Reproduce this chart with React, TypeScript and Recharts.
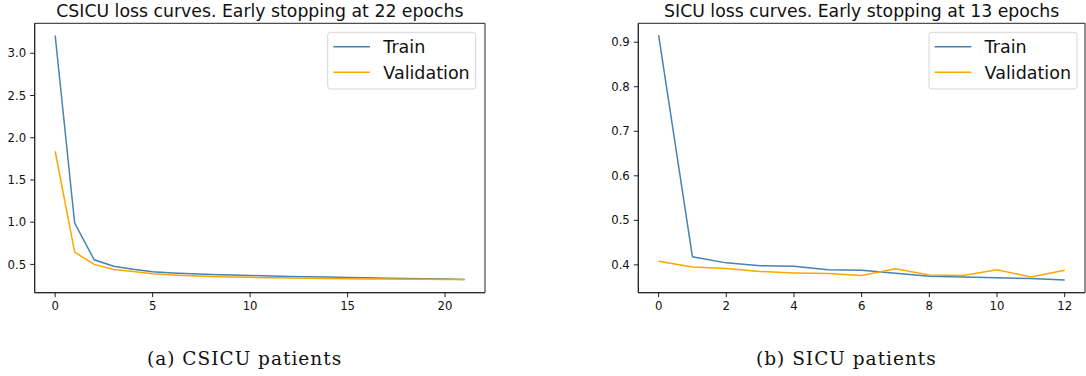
import React from 'react';
import { LineChart, Line, XAxis, YAxis, ReferenceArea } from 'recharts';

// epochs and losses
const epochsCsicu = [0, 1, 2, 3, 4, 5, 6, 7, 8, 9, 10, 11, 12, 13, 14, 15, 16, 17, 18, 19, 20, 21];
const trainCsicu = [3.21, 0.99, 0.555, 0.478, 0.442, 0.413, 0.398, 0.388, 0.38, 0.374, 0.368, 0.364, 0.358, 0.354, 0.35, 0.345, 0.341, 0.337, 0.334, 0.331, 0.327, 0.322];
const valCsicu = [1.84, 0.645, 0.5, 0.44, 0.415, 0.39, 0.376, 0.366, 0.358, 0.352, 0.347, 0.343, 0.338, 0.335, 0.332, 0.33, 0.328, 0.326, 0.325, 0.323, 0.322, 0.32];

const epochsSicu = [0, 1, 2, 3, 4, 5, 6, 7, 8, 9, 10, 11, 12];
const trainSicu = [0.916, 0.418, 0.4045, 0.398, 0.397, 0.389, 0.388, 0.381, 0.3746, 0.3725, 0.371, 0.3695, 0.366];
const valSicu = [0.408, 0.395, 0.392, 0.385, 0.382, 0.3805, 0.376, 0.391, 0.377, 0.376, 0.389, 0.373, 0.388];

const ticksXCsicu = [0, 5, 10, 15, 20];
const ticksYCsicu = [0.5, 1.0, 1.5, 2.0, 2.5, 3.0];
const ticksXSicu = [0, 2, 4, 6, 8, 10, 12];
const ticksYSicu = [0.4, 0.5, 0.6, 0.7, 0.8, 0.9];

const seriesNames = ['Train', 'Validation'];
const seriesColors = ['#4682b4', '#ffa500'];

const tickFont = { fontFamily: 'DejaVu Sans', fontSize: 11.7, fill: '#111' };
const spine = '#222';

const build = (epochs: number[], train: number[], val: number[]) =>
  epochs.map((e, i) => ({ epoch: e, train: train[i], val: val[i] }));

interface PanelProps {
  left: number;
  width: number;
  yAxisWidth: number;
  data: { epoch: number; train: number; val: number }[];
  xDomain: [number, number];
  yDomain: [number, number];
  xTicks: number[];
  yTicks: number[];
}

const Panel: React.FC<PanelProps> = ({ left, width, yAxisWidth, data, xDomain, yDomain, xTicks, yTicks }) => (
  <div style={{ position: 'absolute', left, top: 0 }}>
    <LineChart
      width={width}
      height={376}
      data={data}
      margin={{ top: 23.3, right: 1, left: 0, bottom: 63.3 }}
    >
      <XAxis
        dataKey="epoch"
        type="number"
        domain={xDomain}
        ticks={xTicks}
        allowDataOverflow
        height={20}
        tick={tickFont}
        tickSize={4.5}
        tickMargin={4}
        stroke={spine}
      />
      <YAxis
        type="number"
        domain={yDomain}
        ticks={yTicks}
        allowDataOverflow
        width={yAxisWidth}
        tick={tickFont}
        tickSize={4.5}
        tickMargin={4}
        tickFormatter={(v: number) => v.toFixed(1)}
        stroke={spine}
      />
      {/* full frame, like matplotlib spines */}
      <ReferenceArea
        x1={xDomain[0]}
        x2={xDomain[1]}
        y1={yDomain[0]}
        y2={yDomain[1]}
        fill="none"
        stroke={spine}
        strokeWidth={1}
        ifOverflow="visible"
      />
      <Line dataKey="train" stroke={seriesColors[0]} strokeWidth={1.5} dot={false} isAnimationActive={false} />
      <Line dataKey="val" stroke={seriesColors[1]} strokeWidth={1.5} dot={false} isAnimationActive={false} />
    </LineChart>
  </div>
);

const LegendBox: React.FC<{ x: number }> = ({ x }) => (
  <g>
    <rect x={x} y={32.3} width={148} height={56.7} rx={3} fill="#fff" fillOpacity={0.8} stroke="#d6d6d6" />
    {seriesNames.map((name, i) => (
      <g key={name}>
        <line x1={x + 5.6} x2={x + 42.3} y1={46.7 + i * 25.6} y2={46.7 + i * 25.6} stroke={seriesColors[i]} strokeWidth={1.5} />
        <text x={x + 55.6} y={53.3 + i * 25.6} fontFamily="DejaVu Sans" fontSize={17.5} fill="#111">{name}</text>
      </g>
    ))}
  </g>
);

const App: React.FC = () => (
  <div style={{ position: 'absolute', left: 0, top: 0, width: 1086, height: 376, background: '#fff' }}>
    <Panel
      left={0}
      width={486}
      yAxisWidth={34.7}
      data={build(epochsCsicu, trainCsicu, valCsicu)}
      xDomain={[-1.05, 22.05]}
      yDomain={[0.165, 3.355]}
      xTicks={ticksXCsicu}
      yTicks={ticksYCsicu}
    />
    <Panel
      left={600}
      width={486}
      yAxisWidth={38.3}
      data={build(epochsSicu, trainSicu, valSicu)}
      xDomain={[-0.6, 12.6]}
      yDomain={[0.3375, 0.9425]}
      xTicks={ticksXSicu}
      yTicks={ticksYSicu}
    />
    <svg width={1086} height={376} style={{ position: 'absolute', left: 0, top: 0, pointerEvents: 'none' }}>
      <text x={259.9} y={17.3} textAnchor="middle" fontFamily="DejaVu Sans" fontSize={17.3} fill="#111">
        CSICU loss curves. Early stopping at 22 epochs
      </text>
      <text x={861.7} y={17.3} textAnchor="middle" fontFamily="DejaVu Sans" fontSize={17.3} fill="#111">
        SICU loss curves. Early stopping at 13 epochs
      </text>
      <LegendBox x={327.7} />
      <LegendBox x={929} />
      <text x={147} y={365} fontFamily="DejaVu Serif" fontSize={18.5} letterSpacing={1.0} fill="#111">
        (a) CSICU patients
      </text>
      <text x={756} y={365} fontFamily="DejaVu Serif" fontSize={18.5} letterSpacing={1.0} fill="#111">
        (b) SICU patients
      </text>
    </svg>
  </div>
);

export default App;
